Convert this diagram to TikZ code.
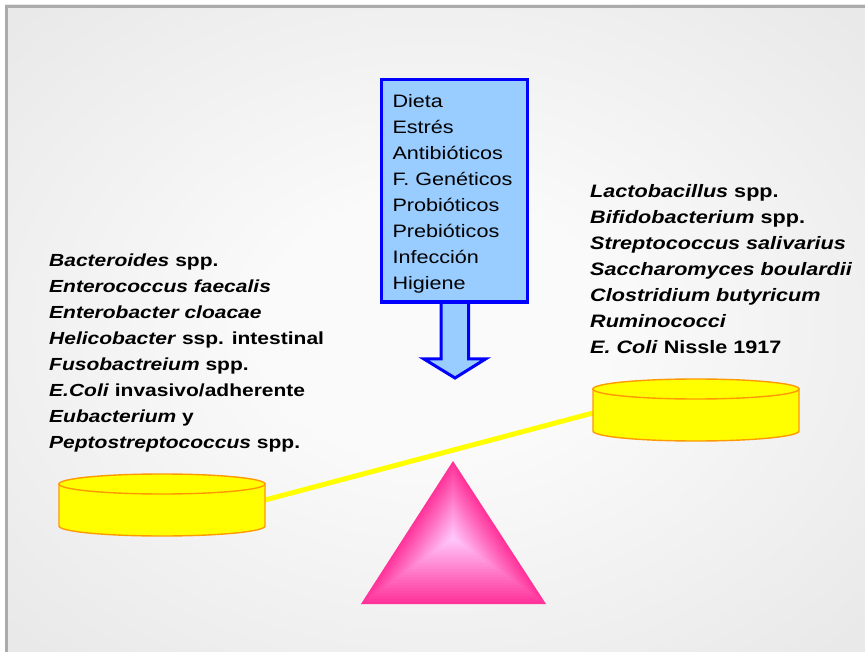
\documentclass[tikz,border=0pt]{standalone}
\usepackage{fontspec}
\setmainfont{Liberation Sans}[FakeStretch=1.2]
\usetikzlibrary{calc}
\definecolor{factor}{HTML}{99CCFF}
\definecolor{factorline}{HTML}{0000FF}
\definecolor{pan}{HTML}{FFFF00}
\definecolor{panline}{HTML}{FF9900}
\definecolor{fulcrum}{HTML}{FF3399}
\definecolor{fulcrumlight}{HTML}{FFCCFF}
\definecolor{bgcenter}{HTML}{FAFAFA}
\definecolor{bgedge}{HTML}{E9E9E9}
\definecolor{frameline}{HTML}{ABABAB}
\pgfdeclareradialshading{backdrop}{\pgfpoint{0bp}{0bp}}{color(0bp)=(bgcenter); color(10bp)=(bgcenter); color(34bp)=(bgedge); color(50bp)=(bgedge)}

\begin{document}
\begin{tikzpicture}[x=1pt,y=-1pt,
  species/.style={anchor=north west,inner sep=0pt,align=left,font=\bfseries},
  panbox/.style={fill=pan,draw=panline,line width=1.4pt}]
  \useasboundingbox (0,0) rectangle (865,652);
  \fill[white] (0,0) rectangle (865,652);
  \shade[shading=backdrop] (5,5) rectangle (865,652);
  \draw[frameline,line width=3pt] (6.5,652) -- (6.5,6.5) -- (865,6.5);

  % Factors box and arrow
  \node[draw=factorline,fill=factor,line width=3pt,anchor=north west,minimum width=146pt,minimum height=222pt,text width=124pt,inner xsep=11pt,align=left,font=\fontsize{18}{26}\selectfont] (factors) at (380,78) {\rule{0pt}{20pt}Dieta\\Estrés\\Antibióticos\\F. Genéticos\\Probióticos\\Prebióticos\\Infección\\Higiene};
  \filldraw[fill=factor,draw=factorline,line width=3pt,line join=miter]
    ($(factors.south)+(-13.5,0)$) -- ++(0,56) -- ++(-17,0) -- ($(factors.south)+(0.5,75)$)
    -- ($(factors.south)+(31,56)$) -- ++(-17,0) -- ($(factors.south)+(14,0)$);
  \draw[factorline,line width=3pt] (factors.south west) -- (factors.south east);

  % Species lists
  \node[species,font=\bfseries\fontsize{17.5}{26}\selectfont] (harmful) at (49,253.5) {\textit{Bacteroides} spp.\\\textit{Enterococcus faecalis}\\\textit{Enterobacter cloacae}\\\textit{Helicobacter} ssp. intestinal\\\textit{Fusobactreium} spp.\\\textit{E.Coli} invasivo/adherente\\\textit{Eubacterium} y\\\textit{Peptostreptococcus} spp.};
  \node[species,font=\bfseries\fontsize{18}{26}\selectfont] (helpful) at (590,184) {\textit{Lactobacillus} spp.\\\textit{Bifidobacterium} spp.\\\textit{Streptococcus salivarius}\\\textit{Saccharomyces boulardii}\\\textit{Clostridium butyricum}\\\textit{Ruminococci}\\\textit{E. Coli} Nissle 1917};

  % Fulcrum
  \coordinate (top) at (453,461);
  \coordinate (baseR) at (546,604);
  \coordinate (baseL) at (361,604);
  \coordinate (mid) at (453,538);
  \foreach \s in {1.00,0.96,...,0.02} {
    \pgfmathsetmacro\mix{100*\s}
    \fill[fulcrum!\mix!fulcrumlight] ($(mid)!\s!(top)$) -- ($(mid)!\s!(baseR)$) -- ($(mid)!\s!(baseL)$) -- cycle;
  }

  % Beam and pans
  \coordinate (beamL) at (262,500.8);
  \coordinate (beamR) at (596,412.2);
  \draw[pan,line width=5pt] (beamL) -- (beamR);
  \filldraw[panbox] (59,484) -- (59,526) arc[start angle=180,end angle=0,x radius=103,y radius=10] -- (265,484) -- cycle;
  \filldraw[panbox] (162,484) ellipse[x radius=103,y radius=10];
  \filldraw[panbox] (593,389) -- (593,431) arc[start angle=180,end angle=0,x radius=103,y radius=10] -- (799,389) -- cycle;
  \filldraw[panbox] (696,389) ellipse[x radius=103,y radius=10];
\end{tikzpicture}
\end{document}
